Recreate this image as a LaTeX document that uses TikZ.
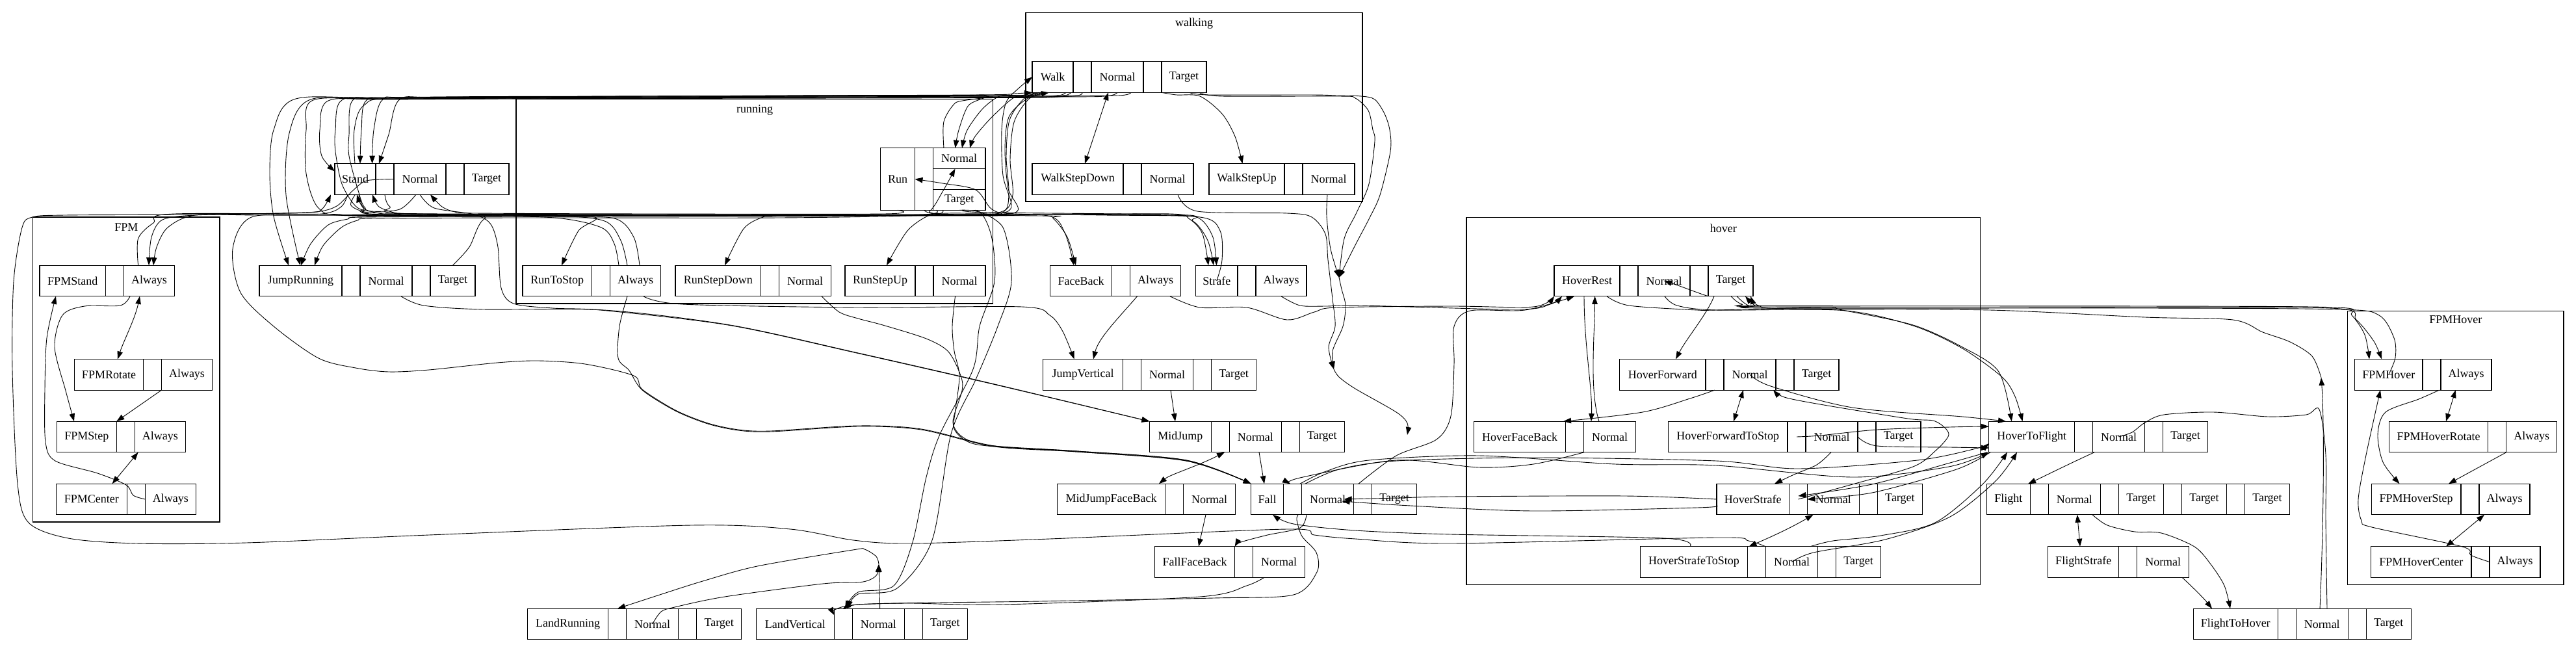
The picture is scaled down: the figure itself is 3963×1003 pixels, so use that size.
\documentclass[tikz,border=0pt]{standalone}
\usepackage{fontspec}
\setmainfont{Liberation Serif}
\usetikzlibrary{arrows.meta}
\newcommand\gvfont{\fontsize{18}{21}\selectfont}
\newcommand\gvrec[4]{%
  \foreach \t/\w [count=\i] in {#4} {%
    \ifnum\i=1
      \node[fld,minimum width=\w pt] (#1\i) at (#2,#3) {\t};
    \else
      \pgfmathtruncatemacro\j{\i-1}%
      \node[fld,minimum width=\w pt] (#1\i) at (#1\j.east) {\t};
    \fi
  }%
}
\begin{document}
\begin{tikzpicture}[x=1pt,y=-1pt,
  fld/.style={draw,line width=1.2pt,minimum height=47.6pt,inner xsep=0pt,inner ysep=0pt,outer sep=0pt,anchor=west,font=\gvfont},
  clu/.style={draw,line width=1.2pt},
  lbl/.style={font=\gvfont,inner sep=0pt},
  ed/.style={line width=0.9pt,-{Triangle[length=12pt,width=8.5pt]}},
  bd/.style={line width=0.9pt,{Triangle[length=12pt,width=8.5pt]}-{Triangle[length=12pt,width=8.5pt]}},
  ln/.style={line width=0.9pt}]
\path[use as bounding box,fill=white] (0,0) rectangle (3963,1003);

% clusters
\draw[clu] (1578,19.3) rectangle (2096,310);
\node[lbl] (Lwalking) at (1837,36) {walking};
\draw[clu] (794,152.7) rectangle (1527.5,467);
\node[lbl] (Lrunning) at (1161,169) {running};
\draw[clu] (50.5,334) rectangle (338,803);
\node[lbl] (LFPM) at (194.3,350) {FPM};
\draw[clu] (2256,334.3) rectangle (3046.7,899.3);
\node[lbl] (Lhover) at (2651.4,351) {hover};
\draw[clu] (3611.7,478.3) rectangle (3944,899.3);
\node[lbl] (LFPMHover) at (3777.9,492) {FPMHover};

% record nodes
\gvrec{st}{515}{275.5}{Stand/63,/28,Normal/80,/28,Target/69}
\gvrec{fs}{61}{432}{FPMStand/101.5,/28,Always/78}
\gvrec{jr}{399}{432}{JumpRunning/127,/28,Normal/80,/28,Target/69}
\gvrec{fr}{114.5}{576.3}{FPMRotate/106,/28,Always/78}
\gvrec{fp}{87.6}{672}{FPMStep/91.7,/28,Always/78}
\gvrec{fc}{86.3}{768}{FPMCenter/109,/28,Always/78}
\gvrec{rts}{804}{432}{RunToStop/106.5,/28,Always/78}
\gvrec{rsd}{1039}{432}{RunStepDown/131.7,/28,Normal/80}
\gvrec{rsu}{1300}{432}{RunStepUp/108,/28,Normal/80}
\node[fld,minimum width=53pt,minimum height=95.6pt] (rn1) at (1354.5,275.5) {Run};
\node[fld,minimum width=28pt,minimum height=95.6pt] (rn2) at (rn1.east) {};
\node[fld,anchor=north west,minimum width=80.4pt,minimum height=31.87pt] (rn3) at (rn2.north east) {Normal};
\node[fld,anchor=north west,minimum width=80.4pt,minimum height=31.87pt] (rn4) at (rn3.south west) {};
\node[fld,anchor=north west,minimum width=80.4pt,minimum height=31.87pt] (rn5) at (rn4.south west) {Target};
\gvrec{wk}{1588}{118.5}{Walk/63,/28,Normal/80,/28,Target/69}
\gvrec{wsd}{1588}{275.5}{WalkStepDown/140,/28,Normal/80}
\gvrec{wsu}{1860}{275.5}{WalkStepUp/116,/28,Normal/80}
\gvrec{fb}{1615.5}{432}{FaceBack/95,/28,Always/78}
\gvrec{sf}{1839.5}{432}{Strafe/64.5,/28,Always/78}
\gvrec{jv}{1604.6}{576.3}{JumpVertical/123,/28,Normal/80,/28,Target/69}
\gvrec{mj}{1768.4}{672}{MidJump/95,/28,Normal/80,/28,Target/69}
\gvrec{mjf}{1626.5}{768}{MidJumpFaceBack/166,/28,Normal/80}
\gvrec{fa}{1924.6}{768}{Fall/50,/28,Normal/80,/28,Target/69}
\gvrec{ffb}{1776.4}{864.5}{FallFaceBack/123.3,/28,Normal/80}
\gvrec{lr}{811.5}{960}{LandRunning/124.2,/28,Normal/80,/28,Target/69}
\gvrec{lv}{1163.4}{960}{LandVertical/120,/28,Normal/80,/28,Target/69}
\gvrec{hr}{2391}{432}{HoverRest/101,/28,Normal/80,/28,Target/69}
\gvrec{hf}{2491.5}{576.3}{HoverForward/132.5,/28,Normal/80,/28,Target/69}
\gvrec{hfb}{2267.5}{672}{HoverFaceBack/141,/28,Normal/80}
\gvrec{hfs}{2566.4}{672}{HoverForwardToStop/183.6,/28,Normal/80,/28,Target/69}
\gvrec{hs}{2641}{768}{HoverStrafe/111.4,/28,Normal/80,/28,Target/69}
\gvrec{hss}{2523.5}{864.5}{HoverStrafeToStop/165,/28,Normal/80,/28,Target/69}
\gvrec{htf}{3059.7}{672}{HoverToFlight/131.8,/28,Normal/80,/28,Target/69}
\gvrec{fl}{3056.4}{768}{Flight/67,/28,Normal/80,/28,Target/69,/28,Target/69,/28,Target/69}
\gvrec{fls}{3150.7}{864.5}{FlightStrafe/109,/28,Normal/80}
\gvrec{fth}{3374.4}{960}{FlightToHover/129.8,/28,Normal/80,/28,Target/69}
\gvrec{fh}{3622.6}{576.3}{FPMHover/104.4,/28,Always/78}
\gvrec{fhr}{3675.4}{672}{FPMHoverRotate/152.3,/28,Always/78}
\gvrec{fhs}{3648.3}{768}{FPMHoverStep/137.7,/28,Always/78}
\gvrec{fhc}{3647.5}{864.5}{FPMHoverCenter/154.5,/28,Always/78}

\coordinate (m1) at (2060,427);
\coordinate (m2) at (2052,568);
\coordinate (m3) at (2165,669);
\coordinate (m5) at (3571,581);
\coordinate (mlv) at (1352,868);

% ---- FPM cluster
\draw[ed] plot[smooth] coordinates {(200,0|-fs3.south) (185,470) (130,471) (96,485) (84,534) (101,601) (114,0|-fp1.north)};
\draw[bd] (215,0|-fs3.south) .. controls (208,490) and (190,525) .. (181,0|-fr1.north);
\draw[ed] (fr3.south west) -- (fp1.north east);
\draw[bd] (212.6,0|-fp3.south) -- (172.6,0|-fc1.north);
\draw[ed] plot[smooth] coordinates {(fc3.west) (205,762) (194,746) (150,728) (85,709) (70,680) (69,600) (72,520) (86,0|-fs1.south)};

% ---- top bundle
\draw[ed] plot[smooth] coordinates {(1598,0|-wk1.south) (1584,146) (1540,147) (1000,149) (600,151) (455,152) (421,200) (415,267) (421,333) (444,0|-jr1.north)};
\draw[ed] plot[smooth] coordinates {(1612,0|-wk1.south) (1592,147.5) (1540,148) (1000,150) (600,152) (478,153) (445,205) (440,300) (462,0|-jr1.north)};
\draw[ed] plot[smooth] coordinates {(wk2.south) (1650,148) (1540,149) (1000,151) (600,153) (505,155) (492,200) (495,240) ([yshift=12pt]st1.west)};
\draw[ed] plot[smooth] coordinates {(wk3.south) (1700,148) (1600,149) (1000,150) (620,151) (564,154) (556,200) (554,0|-st1.north)};
\draw[ed] plot[smooth] coordinates {(1452,0|-rn3.north) (1452,187) (1470,158) (1497,147) (1000,148) (640,150) (589,153) (575,200) (572.6,0|-st1.north)};
\draw[ed] plot[smooth] coordinates {(1740,0|-wk3.south) (1720,147) (1600,147) (1000,149) (680,150) (615,153) (598,207) (583,0|-st2.north)};
\draw[ed] plot[smooth] coordinates {(640,0|-st3.south) (615,322) (570,325) (547,317) (526,283) (516,233) (516,200) (526,154) (600,150) (1000,148) (1500,146) (1560,144) (wk1.south west)};
\draw[ed] plot[smooth] coordinates {(1640,0|-wk1.south) (1622,148) (1540,149.5) (1000,150.5) (600,152) (543,154) (537,207) (537,240) (551,293) (562,320) (592,330) (1000,331.5) (1500,332) (1612,332) (1638,358) (1652,0|-fb1.north)};
\draw[ed] plot[smooth] coordinates {(1648,0|-wk1.south) (1628,149) (1540,150.5) (1000,151.5) (600,152.5) (482,154) (471,200) (471,267) (490,320) (540,332) (800,332.5) (915,334) (890,355) (864,0|-rts1.north)};
\draw[ed] plot[smooth] coordinates {(546,0|-st1.north) (545,200) (560,162) (620,150) (1000,148) (1440,147) (1518,147) (1490,162) (1475,200) (1469.5,0|-rn3.north)};
\draw[ed] plot[smooth] coordinates {(1595,0|-wk1.south) (1570,147) (1539,147.5) (1512,167) (1488,200) (1480,0|-rn3.north)};
\draw[ed] plot[smooth] coordinates {(1603,0|-wk1.south) (1580,149) (1560,150) (1526,180) (1500,210) (1492,0|-rn3.north)};

% ---- lower bundle
\draw[ed] plot[smooth] coordinates {(st3.west) (564,278) (543,293) (518,317) (485,326) (400,329) (300,331) (250,338) (233,365) (229,0|-fs3.north)};
\draw[ed] plot[smooth] coordinates {(952,0|-rts3.north) (945,375) (925,350) (853,335) (700,332) (400,331) (300,331) (258,350) (241,380) (236,0|-fs3.north)};
\draw[ed] plot[smooth] coordinates {(212.6,0|-fs3.north) (212.6,367) (236,343) (269,329) (600,330) (1200,330) (1500,330) (1565,325) (1551,290) (1546,230) (1552,180) (1580,152) (1614,0|-wk1.south)};
\draw[ed] plot[smooth] coordinates {(965,0|-rts3.north) (955,370) (930,340) (850,332) (620,330) (589,329) (560,321) (549,0|-st1.south)};
\draw[ed] plot[smooth] coordinates {(984,0|-rts3.north) (975,365) (945,336) (850,333) (640,331) (610,328) (583,318) (573,0|-st1.south)};
\draw[ed] plot[smooth] coordinates {(1440,0|-rn5.south) (1420,330) (1200,333) (800,333) (560,334) (535,337) (505,346) (478,375) (463,0|-jr1.north)};
\draw[ed] plot[smooth] coordinates {(1450,0|-rn5.south) (1425,331) (1200,335) (800,335) (575,336) (550,339) (525,350) (497,378) (484,0|-jr1.north)};
\draw[ed] plot[smooth] coordinates {(rn1.south) (1360,329) (1000,329) (730,328) (700,326) (680,318) (662,0|-st3.south)};
\draw[ed] plot[smooth] coordinates {(552,0|-st1.south) (560,320) (590,328) (1000,330) (1600,330) (1800,329) (1830,337) (1850,360) (1859,0|-sf1.north)};
\draw[ed] plot[smooth] coordinates {(st2.south) (600,318) (640,329) (1200,331) (1790,331) (1835,340) (1858,370) (1867,0|-sf1.north)};
\draw[ed] plot[smooth] coordinates {(1480,0|-rn5.south) (1520,327) (1800,330) (1845,336) (1866,365) (1871.5,0|-sf1.north)};
\draw[ed] plot[smooth] coordinates {(sf1.center) (1880,400) (1877,355) (1846,334) (1700,331) (1560,329) (1526,322) (1501,292) (1450,282) (rn1.east)};
\draw[ed] plot[smooth] coordinates {(st1.south) (540,316) (565,327) (620,331) (1200,331) (1600,332) (1620,336) (1642,365) (1655,0|-fb1.north)};
\draw[ed] plot[smooth] coordinates {(1598,0|-wk1.south) (1575,152) (1553,185) (1548,240) (1552,295) (1545,325) (1500,331) (1200,332) (1174,334) (1144,352) (1115,0|-rsd1.north)};
\draw[ed] plot[smooth] coordinates {(1606,0|-wk1.south) (1582,153) (1560,188) (1554,245) (1558,300) (1540,326) (1460,328) (1430,331) (1396,355) (1364,0|-rsu1.north)};
\draw[ed] plot[smooth] coordinates {(rn2.south) (1440,329) (1530,329) (1556,318) (1543,270) (1541,200) (1548,157) (1568,135) (wk1.west)};
\draw[ed] plot[smooth] coordinates {(jr5.north) (722,380) (745,337) (800,332) (1400,331) (1430,325) (1450,295) (1469.5,0|-rn3.south)};

% ---- toward Fall / MidJump
\draw[ed] plot[smooth] coordinates {(535,0|-st1.south) (525,318) (495,329) (387,334) (358,383) (370,450) (421,502) (490,551) (547,566) (598,572) (660,569) (765,558) (828,555) (900,560) (975,578) (988,599) (1039,631) (1089,651) (1136,661) (1186,663) (1320,655) (1417,660) (1530,686) (1657,694) (1825,708) (fa1.north west)};
\draw[ed] plot[smooth] coordinates {(965,0|-rts3.south) (953,502) (951,551) (968,570) (988,600) (1039,632) (1089,652) (1136,662) (1186,664) (1320,656) (1417,661) (1530,687) (1657,695) (1825,709) (fa1.north west)};
\draw[ed] plot[smooth] coordinates {(1264,0|-rsd3.south) (1291,480) (1320,490) (1358,500) (1425,521) (1459,541) (1478,578) (1480,601) (1466,650) (1485,675) (1530,686) (1657,694) (1825,708) (fa1.north west)};
\draw[ed] plot[smooth] coordinates {(1469.5,0|-rsu3.south) (1465,502) (1468,540) (1476,578) (1470,630) (1468,660) (1490,680) (1530,687) (1657,695) (1825,709) (fa1.north west)};
\draw[ed] plot[smooth] coordinates {(617,0|-jr3.south) (652,470) (744,476) (929,477) (1123,500) (1320,543) (1530,591) (mj1.north west)};
\draw[ed] plot[smooth] coordinates {(646,0|-st3.south) (668,320) (730,330) (755,345) (766,380) (771,443) (790,467) (850,474) (929,477.5) (1123,500.5) (1320,543.5) (1530,591.5) (mj1.north west)};
\draw[ed] plot[smooth] coordinates {(990,0|-rts3.south) (1050,468) (1320,473) (1572,472) (1615,485) (1635,510) (1652.6,0|-jv1.north)};
\draw[ed] (1749.5,0|-fb3.south) .. controls (1720,490) and (1690,520) .. (1682,0|-jv1.north);
\draw[ed] (1801,0|-jv3.south) -- (1808,0|-mj1.north);
\draw[bd] (1884,0|-mj2.south) .. controls (1840,718) and (1800,730) .. (1783,0|-mjf1.north);
\draw[ed] (1937,0|-mj3.south) .. controls (1940,715) .. (1945,0|-fa1.north);
\draw[ed] (1855,0|-mjf3.south) -- (1844,0|-ffb1.north);

% ---- landings
\draw[ed] plot[smooth] coordinates {(1945,0|-ffb3.south) (1918,901) (1846,918) (1543,930) (1400,928) (1320,930) (1297,0|-lv2.north)};
\draw[ed] plot[smooth] coordinates {(1997,0|-fa3.south) (1995,800) (2003,825) (2025,850) (2026,880) (1990,915) (1867,920) (1600,925) (1320,930) ([yshift=-10pt]lv2.north west)};
\draw[ed] plot[smooth] coordinates {(1476,0|-rn5.south) (1509,328) (1526,367) (1530,433) (1507,502) (1497,568) (1446,668) (1425,734) (1404,834) (1375,901) (1320,911) (1300,0|-lv2.north)};
\draw[ed] plot[smooth] coordinates {(1500,0|-rn5.south) (1543,350) (1556,433) (1535,502) (1501,584) (1463,668) (1434,831) (1380,905) (1320,914) (1304,0|-lv2.north)};
\draw[ed] plot[smooth] coordinates {(lr3.center) (1017,941) (1038,934) (1115,918) (1266,898) (1320,896) (1338,892) (1349,884) (mlv)};
\draw[ed] (1353.7,0|-lv3.north) -- (mlv);
\draw[ed] plot[smooth] coordinates {(mlv) (1348,856) (1330,845) (1312,846) (1165,871) (1081,894) (1018,914) (950,0|-lr2.north)};

% ---- long loop round the left
\draw[ed] plot[smooth] coordinates {(2716,0|-hss2.north) (2690,832) (2640,827) (2232,836) (2085,829) (2022,823) (1980,814) (1615,829) (1400,836) (1313,831) (1216,814) (1064,808) (660,823) (379,835) (210,836) (105,828) (44,804) (27,744) (19,568) (21,433) (34,350) (50,334) (100,331) (300,330) (470,327) (495,322) (509,0|-st1.south)};
\draw[ed] plot[smooth] coordinates {(2600,0|-hss1.north) (2560,828) (2232,822) (2085,816) (1990,806) (1958,0|-fa1.south)};
\draw[ed] plot[smooth] coordinates {(2010,0|-fa3.south) (2000,812) (1950,823) (1909,834) (ffb1.north east)};

% ---- walking
\draw[bd] (1705,0|-wk3.south) -- (1669,0|-wsd1.north);
\draw[ed] plot[smooth] coordinates {(wk5.south west) (1810,146) (1846,148) (1880,175) (1900,210) (1911.5,0|-wsu1.north)};
\draw[ed] plot[smooth] coordinates {(1812,0|-wsd3.south) (1842,325) (1980,328) (2018,334) (2039,360) (2043,400) (2050,460) (2054,502) (2044,534) (m2)};
\draw[ed] plot[smooth] coordinates {(2042,0|-wsu3.south) (2041,333) (2047,383) (m1)};
\draw[ed] plot[smooth] coordinates {(1830,0|-wk5.south) (1860,146) (2018,146) (2056,147) (2094,148) (2115,153) (2130,175) (2138,200) (2139,233) (2123,300) (2106,337) (2085,377) (m1)};
\draw[ed] plot[smooth] coordinates {(1845,0|-wk5.south) (1880,148) (2060,148) (2085,151) (2105,170) (2112,200) (2115,217) (2106,283) (2087,327) (2068,367) (m1)};
\draw[ed] plot[smooth] coordinates {(m1) (2064,445) (2070,470) (2066,502) (2050,540) (m2)};
\draw[ed] plot[smooth] coordinates {(m2) (2060,580) (2085,598) (2148,634) (2165,651) (m3)};

% ---- hover
\draw[ed] plot[smooth] coordinates {(1800,0|-fb3.south) (1846,473) (1918,473) (1980,492) (2022,480) (2056,473) (2232,471) (2359,472) (2391,0|-hr1.south)};
\draw[ed] plot[smooth] coordinates {(sf3.south) (2000,470) (2040,471) (2094,470) (2334,476) (2385,468) (2403,0|-hr1.south)};
\draw[ed] plot[smooth] coordinates {(2090,0|-fa4.north) (2148,701) (2210,676) (2232,640) (2237,560) (2237,502) (2262,478) (2346,477) (2422,0|-hr1.south)};
\draw[ed] (2460,0|-hfb3.north) .. controls (2445,600) and (2453,520) .. (2453.6,0|-hr1.south);
\draw[ed] (2437,0|-hr1.south) .. controls (2437,530) and (2450,600) .. (2448,0|-hfb3.north);
\draw[ed] (2628,0|-hr5.south) .. controls (2610,450) and (2585,440) .. (hr3.center);
\draw[ed] (2637,0|-hr5.south) .. controls (2625,485) and (2595,520) .. (2578,0|-hf1.north);
\draw[ed] plot[smooth] coordinates {(2472,0|-hr1.south) (2506,470) (2611,477) (2640,477) (2808,473) (2834,477) (2943,500) (3019,534) (3075,572) (3094.7,0|-htf1.north)};
\draw[ed] plot[smooth] coordinates {(2561,0|-hr3.south) (2580,470) (2640,477) (2834,477.5) (2943,501) (3019,536) (3080,580) (3100,610) (3111.5,0|-htf1.north)};
\draw[ed] plot[smooth] coordinates {(2663,0|-hr5.south) (2680,468) (2720,470.5) (3300,471) (3596,473) (3618,485) (3638,515) (3645,0|-fh1.north)};
\draw[ed] plot[smooth] coordinates {(2672,0|-hr5.south) (2690,470) (2720,472) (3300,472.5) (3594,474.5) (3625,492) (3652,525) (3664,0|-fh1.north)};
\draw[ed] plot[smooth] coordinates {(fh1.center) (3685,550) (3683,520) (3660,485) (3600,476) (3300,474) (2720,474) (2700,470) (2685,0|-hr5.south)};
\draw[ed] (3569,0|-fth3.north) .. controls (3575,800) and (3576,650) .. (m5);
\draw[ed] plot[smooth] coordinates {(m5) (3557,548) (3523,526) (3481,511) (3435,492) (3300,488) (3061,477) (2750,475) (2705,470) (2693,0|-hr5.south)};
\draw[ln] plot[smooth] coordinates {(3580,0|-fth3.north) (3578,800) (3578,700) (3568,630) (3548,638) (3489,641) (3405,634) (3329,638) (3300,650) (3280,665) (htf3.center)};
\draw[ed] (3222,0|-htf3.south) .. controls (3180,715) and (3140,735) .. (3120,0|-fl1.north);
\draw[bd] (3195.7,0|-fl3.south) -- (3200,0|-fls1.north);
\draw[ed] plot[smooth] coordinates {(3219,0|-fl3.south) (3242,808) (3284,818) (3325,820) (3376,841) (3401,868) (3422,901) (3431,0|-fth1.north)};
\draw[ed] (3357,0|-fls3.south) .. controls (3375,905) and (3390,920) .. (3403,0|-fth1.north);

\draw[bd] (3777.8,0|-fh3.south) -- (3763,0|-fhr1.north);
\draw[ed] plot[smooth] coordinates {(3752.6,0|-fh3.south) (3721,614) (3670,634) (3658,668) (3666,711) (3691.5,0|-fhs1.north)};
\draw[ed] (fhr3.south west) -- (3767,0|-fhs1.north);
\draw[bd] (3822,0|-fhs3.south) -- (3763,0|-fhc1.north);
\draw[ed] plot[smooth] coordinates {(fhc3.west) (3801,854) (3788,841) (3649,811) (3633,801) (3628,768) (3640,700) (3662,0|-fh1.south)};

\draw[bd] (2682,0|-hf3.south) -- (2667,0|-hfs1.north);
\draw[ed] plot[smooth] coordinates {(hf3.center) (2724,594) (2850,627) (3019,641) (3086,0|-htf1.north)};
\draw[ed] plot[smooth] coordinates {(2638,0|-hf2.south) (2600,613) (2527,634) (2405,0|-hfb1.north)};
\draw[ed] plot[smooth] coordinates {(hfs2.center) (2800,670) (2888,661) (3000,657) ([yshift=16pt]htf1.west)};
\draw[ed] plot[smooth] coordinates {(hfs4.west) (2888,686) (3000,688) ([yshift=-17pt]htf1.west)};
\draw[ed] plot[smooth] coordinates {(2817,0|-hfs3.south) (2795,715) (2760,730) (2730,0|-hs1.north)};
\draw[ed] plot[smooth] coordinates {(hs2.center) (2850,745) (2943,718) (2977,694) (2998,668) (2977,648) (2935,644) (2800,622) (2745,611) (2728,0|-hf3.south)};
\draw[ed] plot[smooth] coordinates {(3057,0|-htf1.south) (3000,712) (2880,745) ([yshift=5pt]hs2.center)};
\draw[ed] plot[smooth] coordinates {(3062,0|-htf1.south) (3010,722) (2880,758) (hs3.west)};
\draw[bd] (2789.5,0|-hs3.south) .. controls (2750,815) and (2715,830) .. (2690.5,0|-hss2.north);
\draw[ed] plot[smooth] coordinates {(2785,0|-hss3.north) (2820,832) (2893,824) (2977,804) (3050,745) (3088,0|-htf1.south)};
\draw[ed] plot[smooth] coordinates {(hss3.center) (2790,850) (2900,830) (3000,795) (3070,740) (3103,0|-htf1.south)};
\draw[ed] plot[smooth] coordinates {(hs1.west) (2500,763) (2232,764) (2150,766) ([xshift=-15pt]fa3.east)};
\draw[ed] plot[smooth] coordinates {([yshift=-10pt]hs1.west) (2611,781) (2359,786) (2170,778) ([xshift=-18pt,yshift=-3pt]fa3.east)};
\draw[ed] plot[smooth] coordinates {(2437,0|-hfb3.south) (2359,714) (2275,719) (2148,708) (2000,735) (1985,0|-fa2.north)};
\draw[ed] plot[smooth] coordinates {(2000,0|-fa2.north) (2040,725) (2106,708) (2275,701) (2485,714) (2640,716) (2850,734) (2998,718) (htf1.south west)};
\draw[ed] plot[smooth] coordinates {(2008,0|-fa3.north) (2060,722) (2148,709) (2359,704) (2640,709) (2766,721) (2950,708) (3040,690) ([yshift=-10pt]htf1.west)};
\end{tikzpicture}
\end{document}
